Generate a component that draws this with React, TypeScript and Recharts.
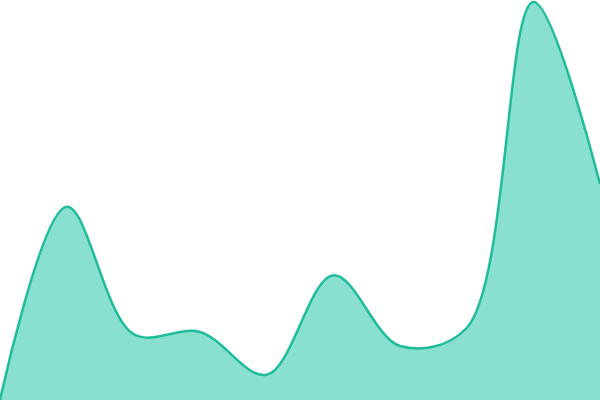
import React from "react";
import { AreaChart, Area, XAxis, YAxis } from "recharts";

const categories = ["A", "B", "C", "D", "E", "F", "G", "H", "I", "J"];
const values = [0, 48.3, 16.5, 17, 6.3, 31.2, 13.5, 18, 99.5, 54];

const data = categories.map((c, i) => ({ name: c, value: values[i] }));

// Centripetal Catmull-Rom curve factory (alpha 0.5), same behaviour as d3.curveCatmullRom
function catmullRomCurve(context: any) {
  const alpha = 0.5;
  const eps = 1e-12;
  const s: any = {};
  const seg = (x: number, y: number) => {
    let x1 = s.x1, y1 = s.y1, x2 = s.x2, y2 = s.y2;
    if (s.l01_a > eps) {
      const a = 2 * s.l01_2a + 3 * s.l01_a * s.l12_a + s.l12_2a;
      const n = 3 * s.l01_a * (s.l01_a + s.l12_a);
      x1 = (x1 * a - s.x0 * s.l12_2a + s.x2 * s.l01_2a) / n;
      y1 = (y1 * a - s.y0 * s.l12_2a + s.y2 * s.l01_2a) / n;
    }
    if (s.l23_a > eps) {
      const b = 2 * s.l23_2a + 3 * s.l23_a * s.l12_a + s.l12_2a;
      const m = 3 * s.l23_a * (s.l23_a + s.l12_a);
      x2 = (x2 * b + s.x1 * s.l23_2a - x * s.l12_2a) / m;
      y2 = (y2 * b + s.y1 * s.l23_2a - y * s.l12_2a) / m;
    }
    context.bezierCurveTo(x1, y1, x2, y2, s.x2, s.y2);
  };
  const curve = {
    areaStart() {
      s.line = 0;
    },
    areaEnd() {
      s.line = NaN;
    },
    lineStart() {
      s.x0 = s.x1 = s.x2 = s.y0 = s.y1 = s.y2 = NaN;
      s.l01_a = s.l12_a = s.l23_a = s.l01_2a = s.l12_2a = s.l23_2a = s.pt = 0;
    },
    lineEnd() {
      switch (s.pt) {
        case 2:
          context.lineTo(s.x2, s.y2);
          break;
        case 3:
          curve.point(s.x2, s.y2);
          break;
      }
      if (s.line || (s.line !== 0 && s.pt === 1)) context.closePath();
      s.line = 1 - s.line;
    },
    point(x: number, y: number) {
      x = +x;
      y = +y;
      if (s.pt) {
        const x23 = s.x2 - x, y23 = s.y2 - y;
        s.l23_2a = Math.pow(x23 * x23 + y23 * y23, alpha);
        s.l23_a = Math.sqrt(s.l23_2a);
      }
      switch (s.pt) {
        case 0:
          s.pt = 1;
          s.line ? context.lineTo(x, y) : context.moveTo(x, y);
          break;
        case 1:
          s.pt = 2;
          break;
        case 2:
          s.pt = 3;
          seg(x, y);
          break;
        default:
          seg(x, y);
          break;
      }
      s.l01_a = s.l12_a;
      s.l12_a = s.l23_a;
      s.l01_2a = s.l12_2a;
      s.l12_2a = s.l23_2a;
      s.x0 = s.x1;
      s.x1 = s.x2;
      s.x2 = x;
      s.y0 = s.y1;
      s.y1 = s.y2;
      s.y2 = y;
    },
  };
  s.line = NaN;
  return curve;
}

export default function App() {
  return (
    <div style={{ position: "absolute", left: 0, top: 0, width: 600, height: 400, background: "#fff" }}>
      <AreaChart width={600} height={400} data={data} margin={{ top: 0, right: 0, bottom: 0, left: 0 }}>
        <XAxis dataKey="name" hide padding={{ left: 0, right: 0 }} />
        <YAxis hide domain={[0, 100]} />
        <Area
          type={catmullRomCurve as any}
          dataKey="value"
          stroke="#1fbc9c"
          strokeWidth={2.5}
          fill="#8ae0d0"
          fillOpacity={1}
          isAnimationActive={false}
          dot={false}
          activeDot={false}
        />
      </AreaChart>
    </div>
  );
}
